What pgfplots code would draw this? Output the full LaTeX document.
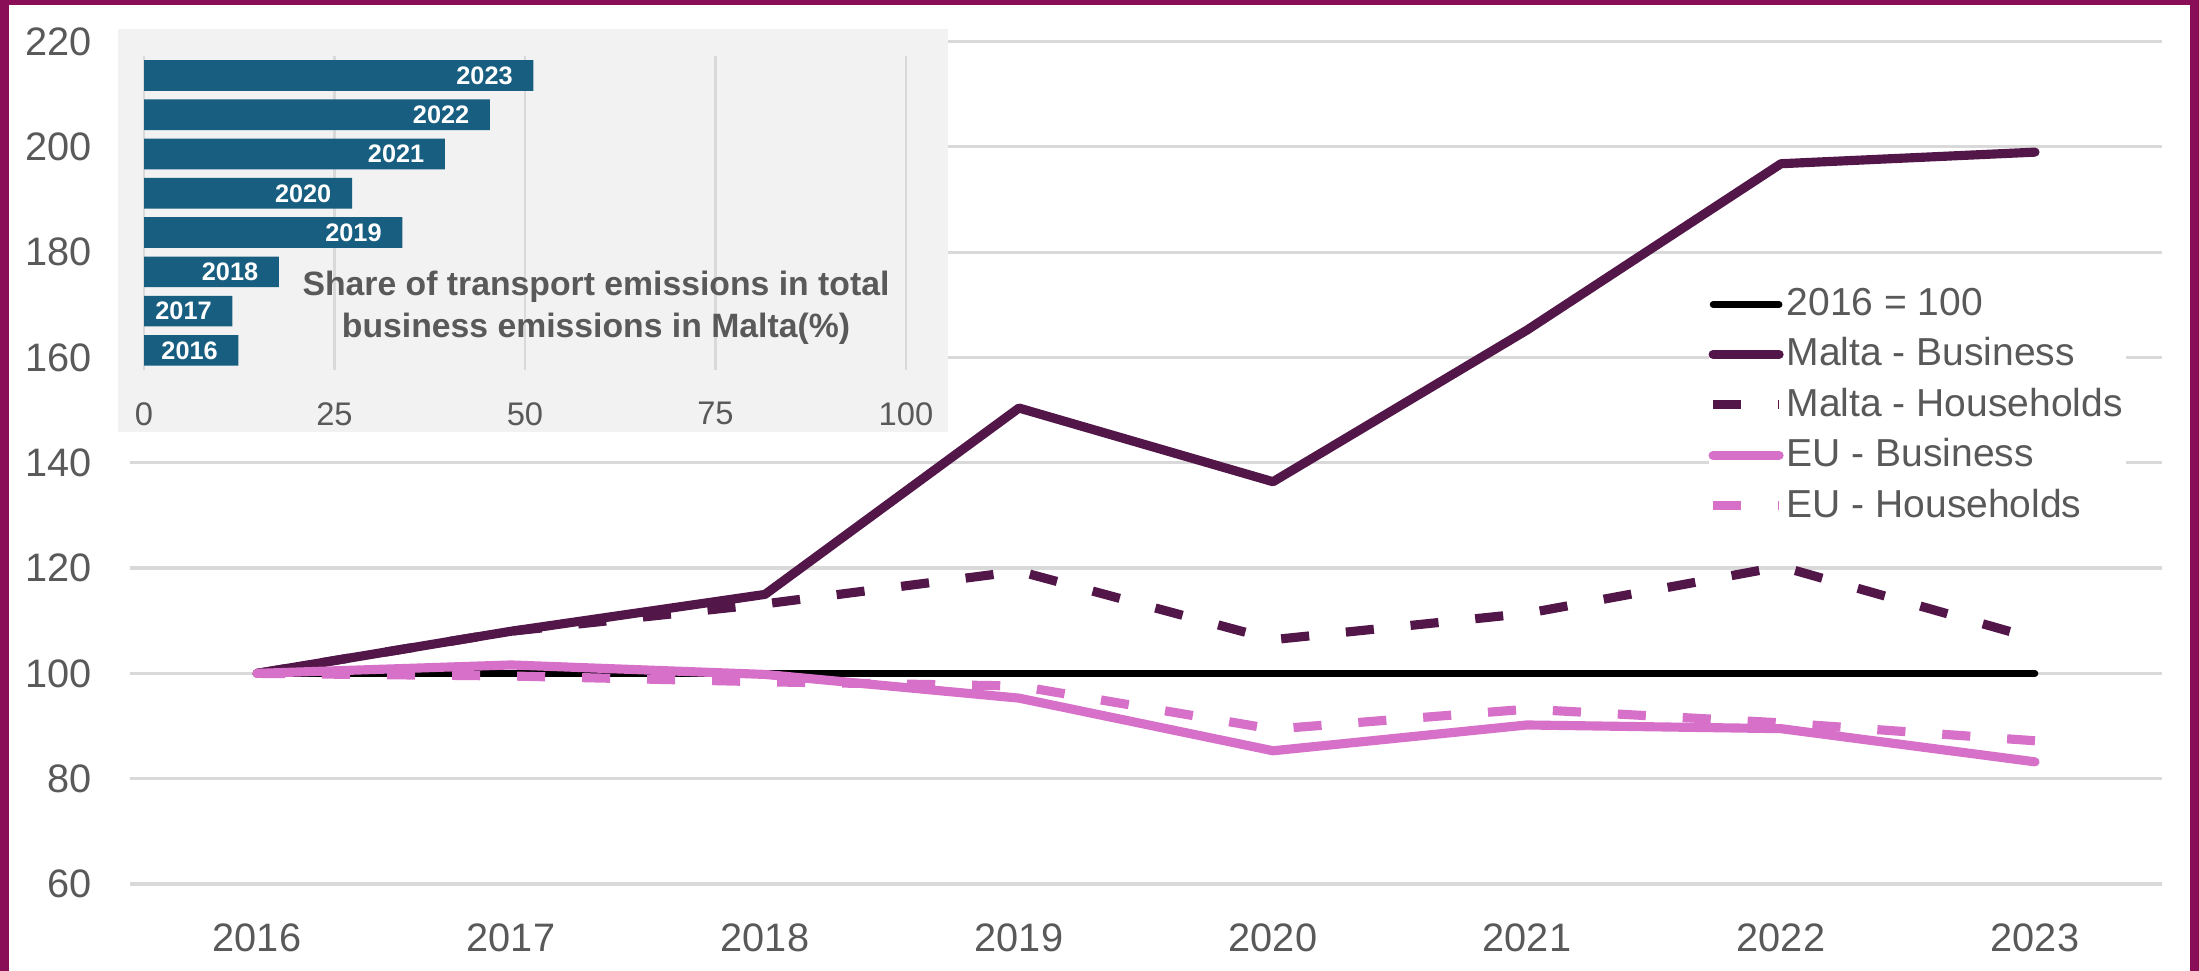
\documentclass[border=0pt]{standalone}
\usepackage{fontspec}
\setmainfont{Liberation Sans}
\usepackage{pgfplots}
\usepackage{pgfplotstable}
\pgfplotsset{compat=1.18}
\definecolor{frame}{HTML}{8A0E57}
\definecolor{malta}{HTML}{521649}
\definecolor{eupink}{HTML}{D670C8}
\definecolor{barblue}{HTML}{175E80}
\definecolor{panelgray}{HTML}{F2F2F2}
\definecolor{gridgray}{HTML}{D9D9D9}
\definecolor{textgray}{HTML}{595959}

\pgfplotstableread{
x base maltab maltah eub euh
0 100 100   100   100   100
1 100 108   108   101.6 99.5
2 100 115   113.2 99.8  98.4
3 100 150.4 119.4 95.3  97.6
4 100 136.4 106.4 85.3  89.4
5 100 165.2 111.4 90.2  93.2
6 100 196.8 120.3 89.5  90.6
7 100 199.0 106.6 83.2  87.2
}\maintable

\pgfplotstableread{
i v lab
0 12.4 2016
1 11.6 2017
2 17.7 2018
3 33.9 2019
4 27.3 2020
5 39.5 2021
6 45.4 2022
7 51.1 2023
}\bartable

\begin{document}
\begin{tikzpicture}
\useasboundingbox (0,0) rectangle (219.9mm,97.1mm);
\fill[white] (0,0) rectangle (219.9mm,97.1mm);

\begin{axis}[
  at={(13mm,8.7mm)}, anchor=south west,
  width=203.2mm, height=84.24mm, scale only axis,
  xmin=-0.5, xmax=7.5, ymin=60, ymax=220,
  xtick={0,...,7}, xticklabels={2016,2017,2018,2019,2020,2021,2022,2023},
  ytick={60,80,...,220},
  axis line style={draw=none}, major tick style={draw=none},
  ymajorgrids, grid style={line width=0.9pt, color=gridgray},
  /pgf/number format/assume math mode=true,
  tick label style={font=\fontsize{11.3}{13}\selectfont, text=textgray},
  yticklabel style={anchor=east, inner sep=0pt, xshift=-3.8mm},
  xticklabel style={anchor=north, inner sep=0pt, yshift=-3.9mm},
  legend style={at={(0.7765,0.708)}, anchor=north west, draw=none, fill=white,
    font=\fontsize{11.1}{13}\selectfont, row sep=4.8pt, inner sep=0pt,
    nodes={text=textgray, inner ysep=0pt, inner xsep=0.3mm}},
  legend cell align=left,
  legend image code/.code={\draw[#1] (0.46mm,0mm) -- (7.06mm,0mm);},
  clip=false,
]
\addplot[black, line width=1.9pt, line cap=round] table[x=x,y=base]{\maintable};
\addlegendentry{2016 = 100}
\addplot[malta, line width=2.6pt, line cap=round, line join=round] table[x=x,y=maltab]{\maintable};
\addlegendentry{Malta - Business}
\addplot[malta, line width=2.6pt, dash pattern=on 8pt off 10.5pt] table[x=x,y=maltah]{\maintable};
\addlegendentry{Malta - Households}
\addplot[eupink, line width=2.6pt, line cap=round, line join=round] table[x=x,y=eub]{\maintable};
\addlegendentry{EU - Business}
\addplot[eupink, line width=2.6pt, dash pattern=on 8pt off 10.5pt] table[x=x,y=euh]{\maintable};
\addlegendentry{EU - Households}
\end{axis}

% inset panel
\fill[panelgray] (11.8mm,53.9mm) rectangle (94.8mm,94.2mm);
\begin{axis}[
  at={(14.4mm,60.1mm)}, anchor=south west,
  width=76.2mm, height=31.4mm, scale only axis,
  xmin=0, xmax=100, ymin=-0.5, ymax=7.5,
  xtick={0,25,50,75,100}, ytick=\empty,
  axis line style={draw=none}, major tick style={draw=none},
  xmajorgrids, grid style={line width=0.8pt, color=gridgray},
  /pgf/number format/assume math mode=true,
  xticklabel style={font=\fontsize{9.3}{11}\selectfont, text=textgray, anchor=north, inner sep=0pt, yshift=-3.15mm},
  clip=false,
]
\addplot[xbar, fill=barblue, draw=none, bar width=3.07mm,
  nodes near coords, point meta=explicit symbolic,
  every node near coord/.append style={anchor=east, xshift=-2mm, text=white,
    font=\fontsize{7.2}{8}\selectfont\bfseries, inner sep=0pt}]
  table[x=v, y=i, meta=lab]{\bartable};
\end{axis}
\node[font=\fontsize{9.6}{12}\selectfont\bfseries, text=textgray, align=center]
  at (59.6mm,66.3mm) {Share of transport emissions in total\\business emissions in Malta(\%)};

% frame
\fill[frame] (0,0) rectangle (0.9mm,97.1mm);
\fill[frame] (219.0mm,0) rectangle (219.9mm,97.1mm);
\fill[frame] (0,96.6mm) rectangle (219.9mm,97.1mm);
\end{tikzpicture}
\end{document}
